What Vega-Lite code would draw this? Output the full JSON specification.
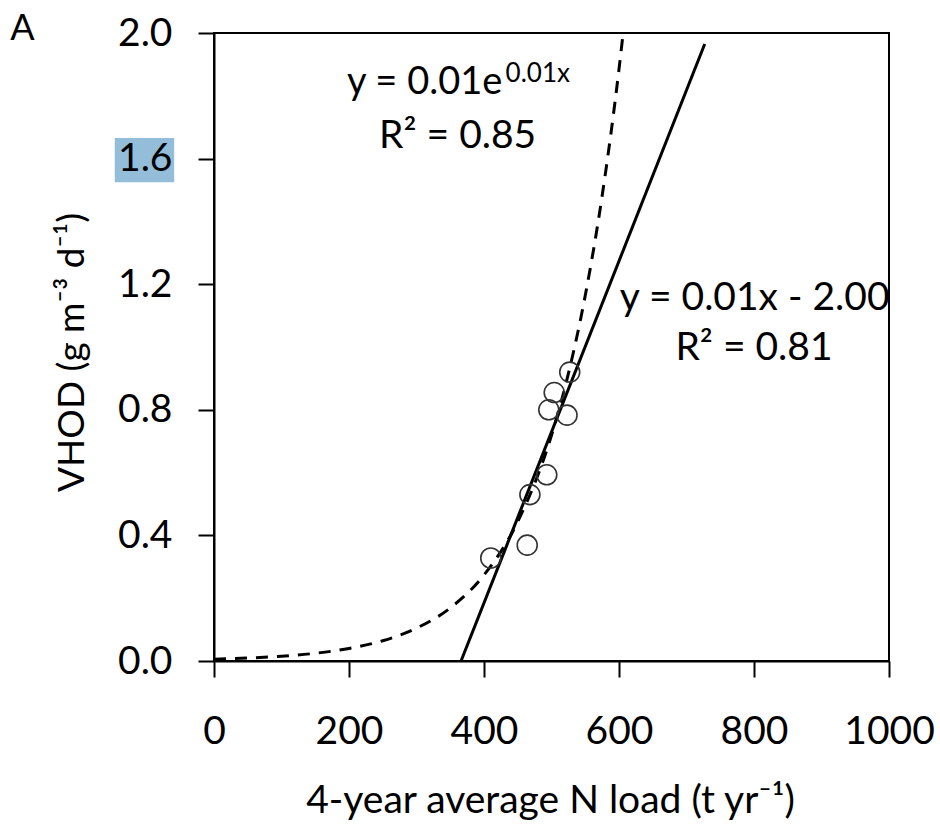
{
  "$schema": "https://vega.github.io/schema/vega-lite/v6.json",
  "autosize": {"type": "none"},
  "padding": {"left": 214, "top": 33, "right": 51, "bottom": 168},
  "width": 675,
  "height": 628,
  "background": "white",
  "config": {
    "view": {"stroke": "black", "strokeWidth": 2},
    "font": "Lato"
  },
  "layer": [
    {
      "data": {"values": [{"x1": -147, "x2": -59, "y1": 1.525, "y2": 1.666}]},
      "mark": {"type": "rect", "color": "#93bdd9", "clip": false},
      "encoding": {
        "x": {"field": "x1", "type": "quantitative", "scale": {"domain": [0, 1000]},
          "axis": {"values": [0, 200, 400, 600, 800, 1000], "format": "d", "grid": false, "labelFlush": false,
            "domainColor": "black", "domainWidth": 2, "tickColor": "black", "tickWidth": 2, "tickSize": 16,
            "labelFontSize": 39, "labelColor": "black", "labelPadding": 35, "labelFont": "Lato",
            "title": "4-year average N load (t yr⁻¹)", "titleFontSize": 39, "titleFontWeight": "normal",
            "titleColor": "black", "titleFont": "Lato", "titleX": 336, "titleY": 151, "titleBaseline": "alphabetic", "titleAlign": "center"}},
        "x2": {"field": "x2"},
        "y": {"field": "y1", "type": "quantitative", "scale": {"domain": [0, 2]},
          "axis": {"values": [0, 0.4, 0.8, 1.2, 1.6, 2.0], "format": ".1f", "grid": false, "zindex": 1, "labelFlush": false,
            "domainColor": "black", "domainWidth": 2, "tickColor": "black", "tickWidth": 2, "tickSize": 16,
            "labelFontSize": 39, "labelColor": "black", "labelPadding": 26, "labelFont": "Lato",
            "title": "VHOD (g m⁻³ d⁻¹)", "titleFontSize": 37, "titleFontWeight": "normal",
            "titleColor": "black", "titleFont": "Lato", "titleX": -142, "titleY": 319, "titleAngle": -90,
            "titleAlign": "center", "titleBaseline": "middle"}},
        "y2": {"field": "y2"}
      }
    },
    {
      "data": {"values": [
        {"x": 0, "y": 0.0058}, {"x": 50, "y": 0.0094}, {"x": 100, "y": 0.0152}, {"x": 150, "y": 0.0246},
        {"x": 200, "y": 0.0399}, {"x": 250, "y": 0.0646}, {"x": 300, "y": 0.1046}, {"x": 350, "y": 0.169},
        {"x": 400, "y": 0.274}, {"x": 450, "y": 0.444}, {"x": 500, "y": 0.719}, {"x": 525, "y": 0.915},
        {"x": 550, "y": 1.164}, {"x": 575, "y": 1.481}, {"x": 600, "y": 1.885}, {"x": 606, "y": 1.997}
      ]},
      "mark": {"type": "line", "color": "black", "strokeWidth": 3, "strokeDash": [12, 9], "interpolate": "monotone"},
      "encoding": {
        "x": {"field": "x", "type": "quantitative"},
        "y": {"field": "y", "type": "quantitative"}
      }
    },
    {
      "data": {"values": [{"x": 366, "y": 0}, {"x": 727, "y": 1.965}]},
      "mark": {"type": "line", "color": "black", "strokeWidth": 3},
      "encoding": {
        "x": {"field": "x", "type": "quantitative"},
        "y": {"field": "y", "type": "quantitative"}
      }
    },
    {
      "data": {"values": [
        {"x": 410, "y": 0.328}, {"x": 464, "y": 0.369}, {"x": 468, "y": 0.53}, {"x": 493, "y": 0.593},
        {"x": 496, "y": 0.80}, {"x": 504, "y": 0.855}, {"x": 523, "y": 0.783}, {"x": 527, "y": 0.92}
      ]},
      "mark": {"type": "point", "shape": "circle", "filled": false, "size": 400, "stroke": "#333333", "strokeWidth": 1.6, "opacity": 1},
      "encoding": {
        "x": {"field": "x", "type": "quantitative"},
        "y": {"field": "y", "type": "quantitative"}
      }
    },
    {
      "data": {"values": [
        {"x": 361, "y": 1.634, "t": "R² = 0.85"},
        {"x": 801, "y": 1.118, "t": "y = 0.01x - 2.00"},
        {"x": 800, "y": 0.959, "t": "R² = 0.81"}
      ]},
      "mark": {"type": "text", "baseline": "alphabetic", "align": "center", "fontSize": 39, "clip": false, "color": "black", "font": "Lato"},
      "encoding": {
        "x": {"field": "x", "type": "quantitative"},
        "y": {"field": "y", "type": "quantitative"},
        "text": {"field": "t"}
      }
    },
    {
      "data": {"values": [
        {"x": 197, "y": 1.806, "t": "y = 0.01e"}
      ]},
      "mark": {"type": "text", "baseline": "alphabetic", "align": "left", "fontSize": 38, "clip": false, "color": "black", "font": "Lato"},
      "encoding": {
        "x": {"field": "x", "type": "quantitative"},
        "y": {"field": "y", "type": "quantitative"},
        "text": {"field": "t"}
      }
    },
    {
      "data": {"values": [
        {"x": -302, "y": 1.978, "t": "A"}
      ]},
      "mark": {"type": "text", "baseline": "alphabetic", "align": "left", "fontSize": 36, "clip": false, "color": "black", "font": "Lato"},
      "encoding": {
        "x": {"field": "x", "type": "quantitative"},
        "y": {"field": "y", "type": "quantitative"},
        "text": {"field": "t"}
      }
    },
    {
      "data": {"values": [{"x": 432, "y": 1.845, "t": "0.01x"}]},
      "mark": {"type": "text", "baseline": "alphabetic", "align": "left", "fontSize": 26, "color": "black", "font": "Lato"},
      "encoding": {
        "x": {"field": "x", "type": "quantitative"},
        "y": {"field": "y", "type": "quantitative"},
        "text": {"field": "t"}
      }
    }
  ]
}
